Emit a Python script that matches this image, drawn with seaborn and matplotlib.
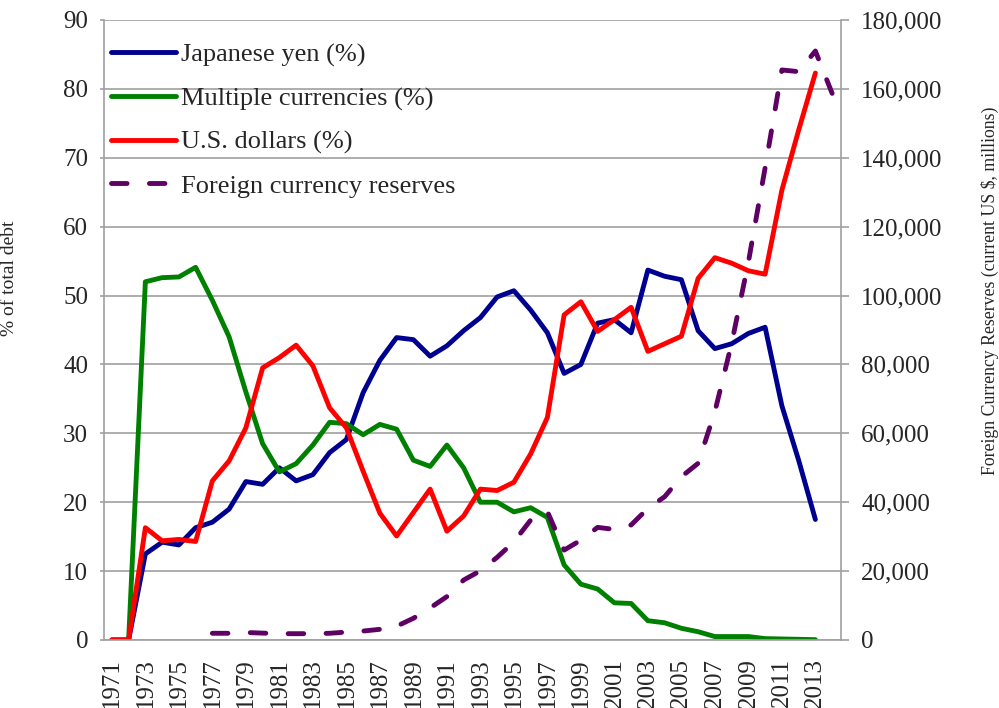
import numpy as np
import pandas as pd
import matplotlib
matplotlib.use("Agg")
import matplotlib.pyplot as plt
import seaborn as sns

years = list(range(1971, 2015))

yen_pct = [0, 0, 12.5, 14.2, 13.8, 16.3, 17.1, 19.0, 23.0, 22.6, 25.0, 23.1, 24.0, 27.2,
           29.1, 35.9, 40.6, 43.9, 43.6, 41.2, 42.7, 44.9, 46.8, 49.8, 50.7, 47.9, 44.6,
           38.7, 40.0, 46.0, 46.5, 44.6, 53.7, 52.8, 52.3, 44.9, 42.3, 43.0, 44.5, 45.4,
           34.0, 26.1, 17.5, np.nan]

multi_pct = [0, 0, 52.0, 52.6, 52.7, 54.1, 49.3, 44.0, 36.0, 28.5, 24.4, 25.6, 28.3, 31.6,
             31.4, 29.8, 31.3, 30.6, 26.1, 25.2, 28.3, 25.0, 20.0, 20.0, 18.6, 19.2, 17.8,
             10.9, 8.1, 7.4, 5.4, 5.3, 2.8, 2.5, 1.7, 1.2, 0.5, 0.5, 0.5, 0.2,
             0.15, 0.1, 0.05, np.nan]

usd_pct = [0, 0, 16.3, 14.4, 14.6, 14.3, 23.1, 26.0, 30.8, 39.5, 41.0, 42.8, 39.8, 33.7,
           30.8, 24.5, 18.4, 15.1, 18.5, 21.9, 15.8, 18.0, 21.9, 21.7, 22.9, 27.0, 32.3,
           47.2, 49.1, 44.8, 46.5, 48.3, 41.9, 43.0, 44.1, 52.5, 55.5, 54.7, 53.6, 53.1,
           65.3, 74.0, 82.3, np.nan]

reserves = [np.nan, np.nan, np.nan, np.nan, np.nan, np.nan, 1950, 1950, 2180, 2000, 1850,
            1830, 1850, 1950, 2300, 2600, 3100, 4000, 6300, 9300, 12600, 17400, 20100,
            24000, 28500, 34800, 37300, 26100, 29000, 32700, 32100, 33400, 38200, 41600,
            47400, 51300, 66300, 86100, 109700, 137100, 165500, 165000, 171000, 158700]

tick_years = years[0:43:2]

sns.set_style("white")
plt.rcParams["font.family"] = ["Liberation Serif", "DejaVu Serif"]

fig = plt.figure(figsize=(9.99, 7.08), dpi=100)
ax = fig.add_axes([103.5 / 999, 68 / 708, 737 / 999, 620 / 708])
ax2 = ax.twinx()

idx = np.arange(len(years))
df = pd.DataFrame({"i": idx, "yen": yen_pct, "multi": multi_pct, "usd": usd_pct, "res": reserves})

lw = 3.5
sns.lineplot(data=df, x="i", y="yen", ax=ax, color="#000090", linewidth=lw, label="Japanese yen (%)")
sns.lineplot(data=df, x="i", y="multi", ax=ax, color="#008000", linewidth=lw, label="Multiple currencies (%)")
sns.lineplot(data=df, x="i", y="usd", ax=ax, color="#ff0000", linewidth=lw, label="U.S. dollars (%)")
sns.lineplot(data=df, x="i", y="res", ax=ax2, color="#5f0064", linewidth=lw, label="Foreign currency reserves")
ax2.lines[-1].set_linestyle((0, (3.2, 4.6)))
ax2.lines[-1].set_dash_capstyle("round")
for ln in ax.lines:
    ln.set_solid_capstyle("round")
    ln.set_solid_joinstyle("round")

for a in (ax, ax2):
    lg = a.get_legend()
    if lg is not None:
        lg.remove()

ax.set_xlim(-0.5, len(years) - 0.5)
ax.set_ylim(0, 90)
ax2.set_ylim(0, 180000)
ax.set_yticks(np.arange(0, 91, 10))
ax2.set_yticks(np.arange(0, 180001, 20000))
ax2.set_yticklabels([f"{v:,}" for v in range(0, 180001, 20000)])
ax.set_xticks([years.index(y) for y in tick_years])
ax.set_xticklabels([str(y) for y in tick_years], rotation=90)

grid_c = "#a0a0a0"
ax.yaxis.grid(True, color=grid_c, linewidth=1.2)
ax.xaxis.grid(False)
ax2.grid(False)
ax.set_axisbelow(True)

for a in (ax, ax2):
    for s in a.spines.values():
        s.set_color(grid_c)
        s.set_linewidth(1.2)
    a.spines["top"].set_visible(False)
ax.spines["right"].set_visible(False)
ax2.spines["left"].set_visible(False)
ax2.spines["bottom"].set_visible(False)

fs = 18
ax.tick_params(axis="y", labelsize=fs, length=3, color=grid_c, width=1.2, pad=8, left=True)
ax.tick_params(axis="x", labelsize=fs, length=0, pad=13, bottom=True)
ax2.tick_params(axis="y", labelsize=fs, length=6, color=grid_c, width=1.2, pad=9, right=True)

ax.set_xlabel("")
ax.set_ylabel("% of total debt", fontsize=14)
ax2.set_ylabel("Foreign Currency Reserves (current US $, millions)", fontsize=12.8)
ax.yaxis.set_label_coords((18 - 103.5) / 737, (640 - 278) / 620)
ax2.yaxis.set_label_coords((981 - 103.5) / 737, (640 - 291) / 620)

handles = ax.lines[:3] + [ax2.lines[-1]]
labels = ["Japanese yen (%)", "Multiple currencies (%)", "U.S. dollars (%)", "Foreign currency reserves"]
leg = ax2.legend(handles, labels, loc="upper left", bbox_to_anchor=(111 / 999, 1 - 43 / 708),
                 bbox_transform=fig.transFigure, frameon=False, fontsize=19,
                 handlelength=2.45, handletextpad=0.22, labelspacing=0.75, borderpad=0, borderaxespad=0)

fig.savefig("out.png", dpi=100)
